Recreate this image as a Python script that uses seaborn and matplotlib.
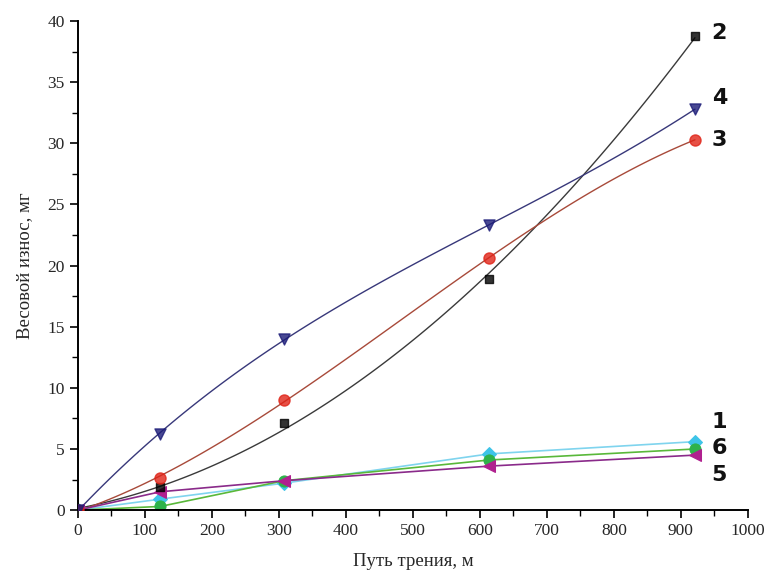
import numpy as np
import pandas as pd
import matplotlib
matplotlib.use("Agg")
import matplotlib.pyplot as plt
from matplotlib.ticker import MultipleLocator
import seaborn as sns

# friction path, m
path = [0, 123, 307, 614, 921]

# weight wear, mg (curves 1..6)
wear_1 = [0, 0.9, 2.2, 4.6, 5.6]
wear_2 = [0, 1.9, 7.1, 18.9, 38.8]
wear_3 = [0, 2.6, 9.0, 20.6, 30.3]
wear_4 = [0, 6.2, 14.0, 23.3, 32.8]
wear_5 = [0, 1.5, 2.4, 3.6, 4.5]
wear_6 = [0, 0.3, 2.4, 4.1, 5.0]

labels = ['1', '2', '3', '4', '5', '6']
label_y = [7.2, 39.0, 30.3, 33.7, 2.9, 5.1]

sns.set_style("ticks")
plt.rcParams['font.family'] = ['Liberation Serif', 'DejaVu Serif']

fig = plt.figure(figsize=(7.71, 5.85), dpi=100)
ax = fig.add_axes([0.101, 0.128, 0.869, 0.836])

# fitted curves (2, 3, 4)
fits = [
    (wear_2, 2, 's', '#000000', '#3a3a3a', 6),
    (wear_3, 3, 'o', '#e02418', '#a84a3a', 8),
    (wear_4, 3, 'v', '#1c1c78', '#38387a', 8),
]
for vals, order, mk, mc, lc, ms in fits:
    sns.regplot(x=path, y=vals, order=order, ci=None, ax=ax,
                marker=mk, truncate=True,
                scatter_kws={'color': mc, 's': ms ** 2, 'edgecolor': mc, 'zorder': 3},
                line_kws={'color': lc, 'lw': 1.0})

# straight segments (1, 5, 6)
lines = [
    (wear_1, 'D', '#3ec4e8', '#7fd4ee', 7),
    (wear_6, 'o', '#2eb24a', '#59b83a', 8),
    (wear_5, '<', '#b0208f', '#8a2a8a', 8),
]
for vals, mk, mc, lc, ms in lines:
    df = pd.DataFrame({'x': path, 'y': vals})
    sns.lineplot(data=df, x='x', y='y', ax=ax, color=lc, lw=1.2,
                 marker=mk, markersize=ms, markerfacecolor=mc,
                 markeredgecolor=mc)

for lab, ly in zip(labels, label_y):
    ax.text(946, ly, lab, fontsize=16, fontweight='bold',
            family=['DejaVu Sans'], va='center', ha='left', color='#111111')

ax.set_xlim(0, 1000)
ax.set_ylim(0, 40)
ax.xaxis.set_major_locator(MultipleLocator(100))
ax.xaxis.set_minor_locator(MultipleLocator(50))
ax.yaxis.set_major_locator(MultipleLocator(5))
ax.yaxis.set_minor_locator(MultipleLocator(2.5))
ax.tick_params(which='major', length=6, width=1.2, labelsize=12.5, color='black')
ax.tick_params(which='minor', length=4, width=1.0, color='black')
for s in ['left', 'bottom']:
    ax.spines[s].set_linewidth(1.4)
    ax.spines[s].set_color('black')
sns.despine(ax=ax)

ax.set_xlabel('Путь трения, м', fontsize=13.5, labelpad=10)
ax.set_ylabel('Весовой износ, мг', fontsize=13.5, labelpad=10)

fig.savefig('out.png', dpi=100)
